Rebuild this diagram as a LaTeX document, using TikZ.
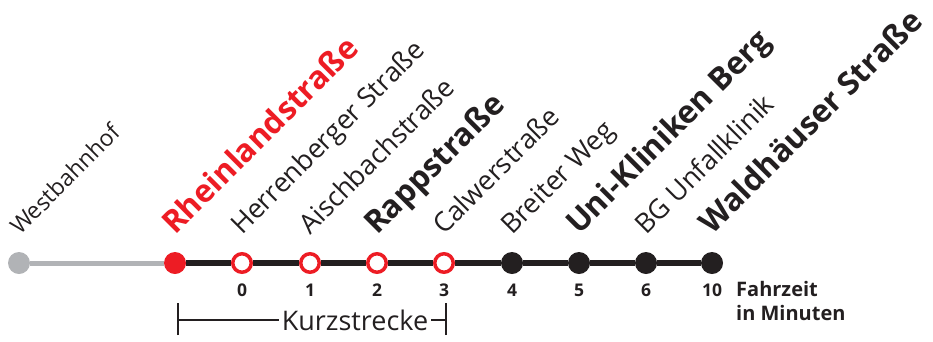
\documentclass[tikz,border=0pt]{standalone}
\usepackage{fontspec}
\setmainfont{Open Sans}
\definecolor{linered}{HTML}{ED1C24}
\definecolor{linegrey}{HTML}{B1B3B6}
\definecolor{lineblack}{HTML}{231F20}
\newcommand{\stopsmall}{\fontsize{23}{27}\selectfont}
\newcommand{\stopreg}{\fontsize{27}{31}\selectfont}
\newcommand{\stopbig}{\fontsize{31.5}{36}\selectfont\bfseries}
\begin{document}
\begin{tikzpicture}[x=1pt, y=-1pt]
        \tikzstyle{stop_full} = [shape = circle, draw = none, minimum size=22pt, inner sep=0pt]
        \tikzstyle{stop_open} = [shape = circle, draw = linered, fill = white, line width=3.5pt, minimum size=18.5pt, inner sep=0pt]
        \tikzstyle{stop_name} = [rotate=45, anchor=base west, inner sep=0pt, text=lineblack]
        \tikzstyle{stop_time} = [inner sep=0pt, text=lineblack, font=\fontsize{17.5}{20}\selectfont\bfseries]

        \useasboundingbox (0,0) rectangle (933,341);

        \node[stop_full, fill=linegrey] at (19, 263) (westb) {};

        \node[stop_full, fill=linered] at (175, 263) (rhein) {};

        \node[stop_open] at (242, 263) (herren) {};

        \node[stop_open] at (310, 263) (aisch) {};

        \node[stop_open] at (377, 263) (rapp) {};

        \node[stop_open] at (444, 263) (calw) {};

        \node[stop_full, fill=lineblack] at (512, 263) (breit) {};

        \node[stop_full, fill=lineblack] at (579, 263) (uni) {};

        \node[stop_full, fill=lineblack] at (646, 263) (bgu) {};

        \node[stop_full, fill=lineblack] at (712, 263) (waldh) {};

        \draw[linegrey, line width=5pt] (westb) -- (rhein);
        \draw[lineblack, line width=6pt]
          (rhein) -- (herren) -- (aisch) -- (rapp) -- (calw) -- (breit) -- (uni) -- (bgu) -- (waldh)
        ;

        % names
        \node[stop_name, font=\stopsmall] at (20, 236) (westb_l) {Westbahnhof};
        \node[stop_name, font=\stopbig, text=linered] at (175, 236) (rhein_l) {Rheinlandstraße};
        \node[stop_name, font=\stopreg] at (242, 236) (herren_l) {Herrenberger Straße};
        \node[stop_name, font=\stopreg] at (310, 236) (aisch_l) {Aischbachstraße};
        \node[stop_name, font=\stopbig] at (377, 236) (rapp_l) {Rappstraße};
        \node[stop_name, font=\stopreg] at (444, 236) (calw_l) {Calwerstraße};
        \node[stop_name, font=\stopreg] at (512, 236) (breit_l) {Breiter Weg};
        \node[stop_name, font=\stopbig] at (579, 236) (uni_l) {Uni-Kliniken Berg};
        \node[stop_name, font=\stopreg] at (646, 236) (bgu_l) {BG Unfallklinik};
        \node[stop_name, font=\stopbig] at (712, 236) (waldh_l) {Waldhäuser Straße};

        % minutes
        \node[stop_time] at (242, 290) (t0) {0};
        \node[stop_time] at (310, 290) (t1) {1};
        \node[stop_time] at (377, 290) (t2) {2};
        \node[stop_time] at (444, 290) (t3) {3};
        \node[stop_time] at (512, 290) (t4) {4};
        \node[stop_time] at (579, 290) (t5) {5};
        \node[stop_time] at (646, 290) (t6) {6};
        \node[stop_time] at (712, 290) (t10) {10};
        \node[anchor=north west, inner sep=0pt, align=left, text=lineblack,
              font=\fontsize{20}{24}\selectfont\bfseries] at (736, 281) (fahrzeit) {Fahrzeit\\in Minuten};

        % Kurzstrecke
        \coordinate (k_left) at (178, 320);
        \coordinate (k_right) at (446, 320);
        \node[inner sep=3pt, text=lineblack, font=\fontsize{27}{30}\selectfont] at (355, 320) (kurz) {Kurzstrecke};
        \draw[lineblack, line width=1.2pt]
          ([yshift=-15pt]k_left) -- ([yshift=17pt]k_left)
          ([yshift=-15pt]k_right) -- ([yshift=17pt]k_right)
          (k_left) -- (kurz.west)
          (kurz.east) -- (k_right)
        ;
      \end{tikzpicture}
\end{document}
